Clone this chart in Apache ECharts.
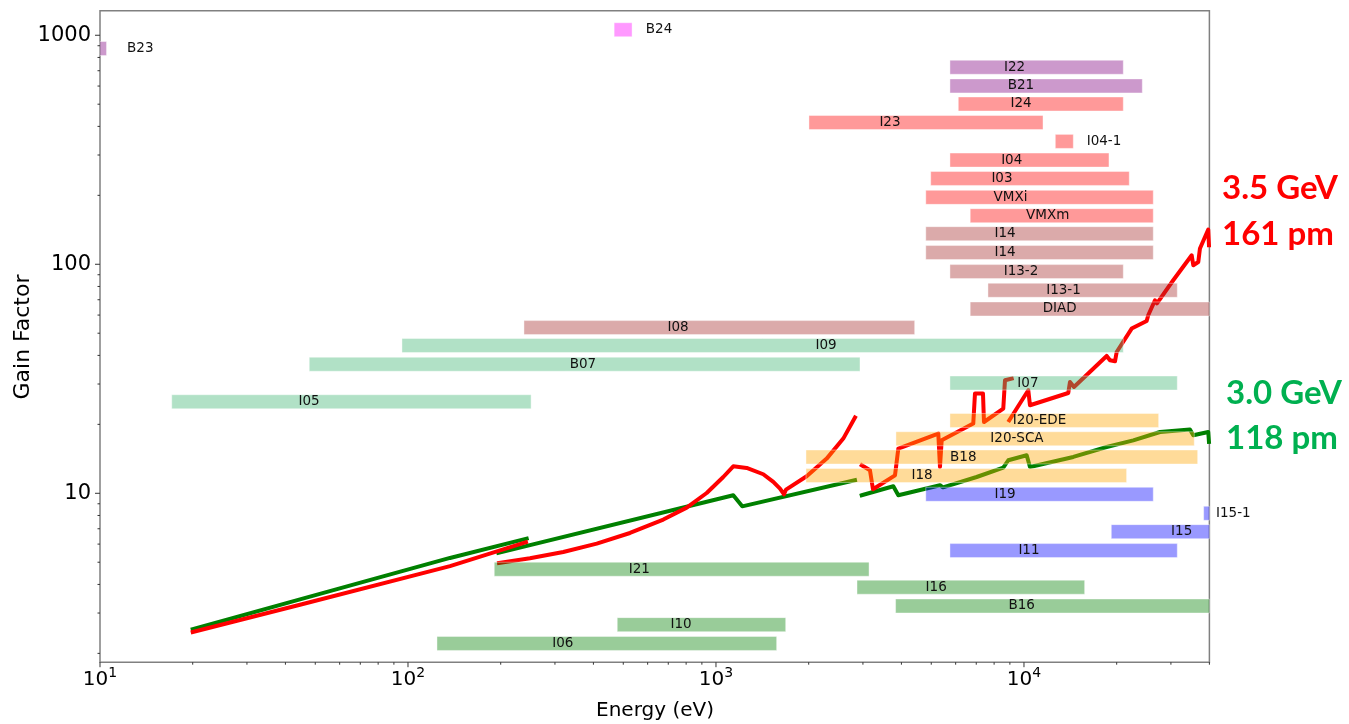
<!DOCTYPE html>
<html><head><meta charset="utf-8">
<script src="https://cdn.jsdelivr.net/npm/echarts@6/dist/echarts.min.js"></script>
<style>html,body{margin:0;padding:0;background:#fff}#chart{width:1349px;height:724px}</style>
</head><body><div id="chart"></div>
<script>
// ---------------- data ----------------
const barNames = ['B24','B23','I22','B21','I24','I23','I04-1','I04','I03','VMXi','VMXm','I14','I14','I13-2','I13-1','DIAD','I08','I09','B07','I07','I05','I20-EDE','I20-SCA','B18','I18','I19','I15-1','I15','I11','I21','I16','B16','I10','I06'];
const barGain  = [1057,875,725,601,501,416,344,285,237,196,163,136,112.5,92.9,77.0,63.8,52.9,44.2,36.6,30.3,25.1,20.8,17.3,14.4,11.95,9.90,8.18,6.80,5.62,4.66,3.89,3.22,2.67,2.21];
const barStart = [467,10,5750,5750,6120,2004,12640,5750,4980,4800,6690,4800,4800,5750,7640,6690,238,95.6,47.8,5750,17.1,5750,3840,1960,1960,4800,38320,19210,5750,190.6,2870,3830,478,124.2];
const barEnd   = [534,10.5,21010,24220,21010,11530,14460,18880,21970,26290,26290,26290,26290,21010,31460,40000,4417,21010,2935,31460,251,27370,35720,36640,21540,26290,40000,40000,31460,3140,15740,40000,1684,1574];
const barLabelAt = [592,12.24,9316,9779,9779,3672,15980,9124,8483,9042,11940,8676,8676,9779,13440,13060,753,2276,370,10300,47.7,11230,9490,6353,4665,8676,42020,32510,10380,564,5187,9828,770,318];
const barGroup = ['magenta','purple','purple','purple','red','red','red','red','red','red','red','brown','brown','brown','brown','brown','brown','seagreen','seagreen','seagreen','seagreen','orange','orange','orange','orange','blue','blue','blue','blue','green','green','green','green','green'];

// 3.5 GeV / 161 pm curve, in separate segments
const red35 = [
  [[20,2.48],[44.6,3.26],[136.9,4.81],[241.6,6.11]],
  [[197.5,4.96],[248.9,5.20],[319.3,5.54],[410.1,6.03],[525.7,6.71],[674.5,7.68],[803.4,8.66],[932.9,10.03],[1056,11.78],[1138,13.12],[1258,12.90],[1424,12.11],[1535,11.21],[1614,10.48],[1663,9.90],[1688,10.38],[1970,11.87],[2288,14.17],[2590,17.33],[2827,21.41]],
  [[2973,13.25],[3162,12.60],[3234,10.41],[3813,11.98],[3909,15.67],[5270,18.23],[5337,13.03],[5405,17.03],[6845,20.16],[6933,27.25],[7361,27.25],[7416,20.48],[8567,23.44],[8676,31.14],[9124,31.69]],
  [[8961,20.84],[10327,28.17],[10459,24.23],[13925,27.41],[14105,30.62],[14533,29.13],[18555,39.79],[19025,38.08],[19750,37.70],[20000,41.40],[22370,52.39],[25020,56.56],[25320,59.89],[26630,69.64],[27030,67.55],[30520,85.14],[35040,109.5],[35460,99.0],[36810,102.3],[37270,117.1],[39660,141.8],[39870,121.1]]
];
// 3.0 GeV / 118 pm curve
const green30 = [
  [[20,2.55],[44.6,3.44],[136.9,5.22],[242.9,6.34]],
  [[196.5,5.49],[1138,9.80],[1217,8.77],[2827,11.40]],
  [[2973,9.80],[3765,10.73],[3909,9.80],[5337,10.84],[5458,10.62],[7021,11.78],[8567,12.95],[8892,13.94],[10205,14.66],[10459,13.03],[14460,14.41],[18555,15.93],[22640,17.03],[27650,18.52],[34590,18.97],[35460,17.92],[39660,18.52],[39870,16.75]]
];

const xRange = [10, 40000];
const yRange = [1.83, 1280];
const xMajorTicks = [10,100,1000,10000];
const xMinorTicks = [20,30,40,50,60,70,80,90,200,300,400,500,600,700,800,900,2000,3000,4000,5000,6000,7000,8000,9000,20000,30000,40000];
const yMajorTicks = [10,100,1000];
const yMinorTicks = [2,3,4,5,6,7,8,9,20,30,40,50,60,70,80,90,200,300,400,500,600,700,800,900];

// ---------------- styles ----------------
const groupColors = {
  purple:'rgba(128,0,128,0.4)', magenta:'rgba(255,0,255,0.4)', red:'rgba(255,0,0,0.4)',
  brown:'rgba(165,42,42,0.4)', seagreen:'rgba(60,179,113,0.4)', orange:'rgba(255,165,0,0.4)',
  blue:'rgba(0,0,255,0.4)', green:'rgba(0,128,0,0.4)'
};
const FONT = '"DejaVu Sans", sans-serif';
const isPow10 = v => Math.abs(Math.log10(v) - Math.round(Math.log10(v))) < 1e-6;

const chart = echarts.init(document.getElementById('chart'), null, {renderer:'canvas'});

const series = [];
green30.forEach(seg => series.push({
  type:'line', data:seg, showSymbol:false, symbol:'none', z:2, silent:true,
  lineStyle:{color:'#008000', width:4, join:'round', cap:'square'}
}));
red35.forEach(seg => series.push({
  type:'line', data:seg, showSymbol:false, symbol:'none', z:2, silent:true,
  lineStyle:{color:'#ff0000', width:4, join:'round', cap:'square'}
}));

// beamline bars (drawn on top, translucent)
series.push({
  type:'custom', z:5, silent:true, clip:false,
  data: barNames.map((n,i)=>[barStart[i], barEnd[i], barGain[i], barLabelAt[i]]),
  encode:{x:[0,1], y:2},
  renderItem(params, api){
    const i = params.dataIndex;
    const cs = params.coordSys;
    const a = api.coord([api.value(0), api.value(2)]);
    const b = api.coord([api.value(1), api.value(2)]);
    const x0 = Math.max(a[0], cs.x), x1 = Math.min(b[0], cs.x + cs.width);
    const lab = api.coord([api.value(3), api.value(2)]);
    const outside = api.value(3) > api.value(1);
    return {type:'group', children:[
      {type:'rect', shape:{x:x0, y:a[1]-7, width:x1-x0, height:14},
       style:{fill:groupColors[barGroup[i]], stroke:'rgba(255,255,255,0.5)', lineWidth:0.8}},
      {type:'text', x:lab[0], y:a[1], z2:10,
       style:{text:barNames[i], align: outside?'left':'center', verticalAlign:'middle',
              font:'13.5px ' + FONT, fill:'#111'}}
    ]};
  }
});

// tick marks
function tickSeries(values, isX, len){
  return {
    type:'custom', z:6, silent:true, clip:false,
    data: values.map(v => isX ? [v, yRange[0]] : [xRange[0], v]),
    renderItem(params, api){
      const cs = params.coordSys;
      const p = api.coord([api.value(0), api.value(1)]);
      const shape = isX
        ? {x1:p[0], y1:cs.y+cs.height, x2:p[0], y2:cs.y+cs.height+len}
        : {x1:cs.x, y1:p[1], x2:cs.x-len, y2:p[1]};
      return {type:'line', shape, style:{stroke:'#333', lineWidth:1}};
    }
  };
}
series.push(tickSeries(xMajorTicks, true, 5));
series.push(tickSeries(xMinorTicks, true, 2.5));
series.push(tickSeries(yMajorTicks, false, 5));
series.push(tickSeries(yMinorTicks, false, 2.5));

chart.setOption({
  animation:false,
  backgroundColor:'#fff',
  grid:{left:100, top:10.7, width:1109.4, height:651.5, show:true, borderColor:'#808080', borderWidth:1.5, containLabel:false},
  xAxis:{type:'log', logBase:10, min:xRange[0], max:xRange[1],
    axisLine:{show:false}, axisTick:{show:false}, splitLine:{show:false}, minorTick:{show:false},
    axisLabel:{margin:4, color:'#000',
      formatter: v => isPow10(v) ? '{b|10}{s|' + Math.round(Math.log10(v)) + '}' : '',
      rich:{b:{fontSize:20, fontFamily:FONT, color:'#000'}, s:{fontSize:14, fontFamily:FONT, color:'#000', padding:[0,0,14,0]}}
    }
  },
  yAxis:{type:'log', logBase:10, min:yRange[0], max:yRange[1],
    axisLine:{show:false}, axisTick:{show:false}, splitLine:{show:false}, minorTick:{show:false},
    axisLabel:{margin:9, color:'#000', fontSize:21, fontFamily:FONT, padding:[5,0,0,0],
      formatter: v => isPow10(v) ? String(Math.pow(10, Math.round(Math.log10(v)))) : ''}
  },
  graphic:[
    {type:'text', x:655, y:711, style:{text:'Energy (eV)', font:'20px ' + FONT, align:'center', verticalAlign:'middle', fill:'#000'}},
    {type:'text', x:23, y:337, rotation:Math.PI/2, style:{text:'Gain Factor', font:'22px ' + FONT, align:'center', verticalAlign:'middle', fill:'#000'}},
    {type:'text', x:1222, y:188, style:{text:'3.5 GeV', font:'bold 33px Lato', verticalAlign:'middle', fill:'#ff0000'}},
    {type:'text', x:1222, y:234, style:{text:'161 pm', font:'bold 33px Lato', verticalAlign:'middle', fill:'#ff0000'}},
    {type:'text', x:1226, y:393, style:{text:'3.0 GeV', font:'bold 33px Lato', verticalAlign:'middle', fill:'#00b050'}},
    {type:'text', x:1226, y:438, style:{text:'118 pm', font:'bold 33px Lato', verticalAlign:'middle', fill:'#00b050'}}
  ],
  series
});
</script></body></html>
